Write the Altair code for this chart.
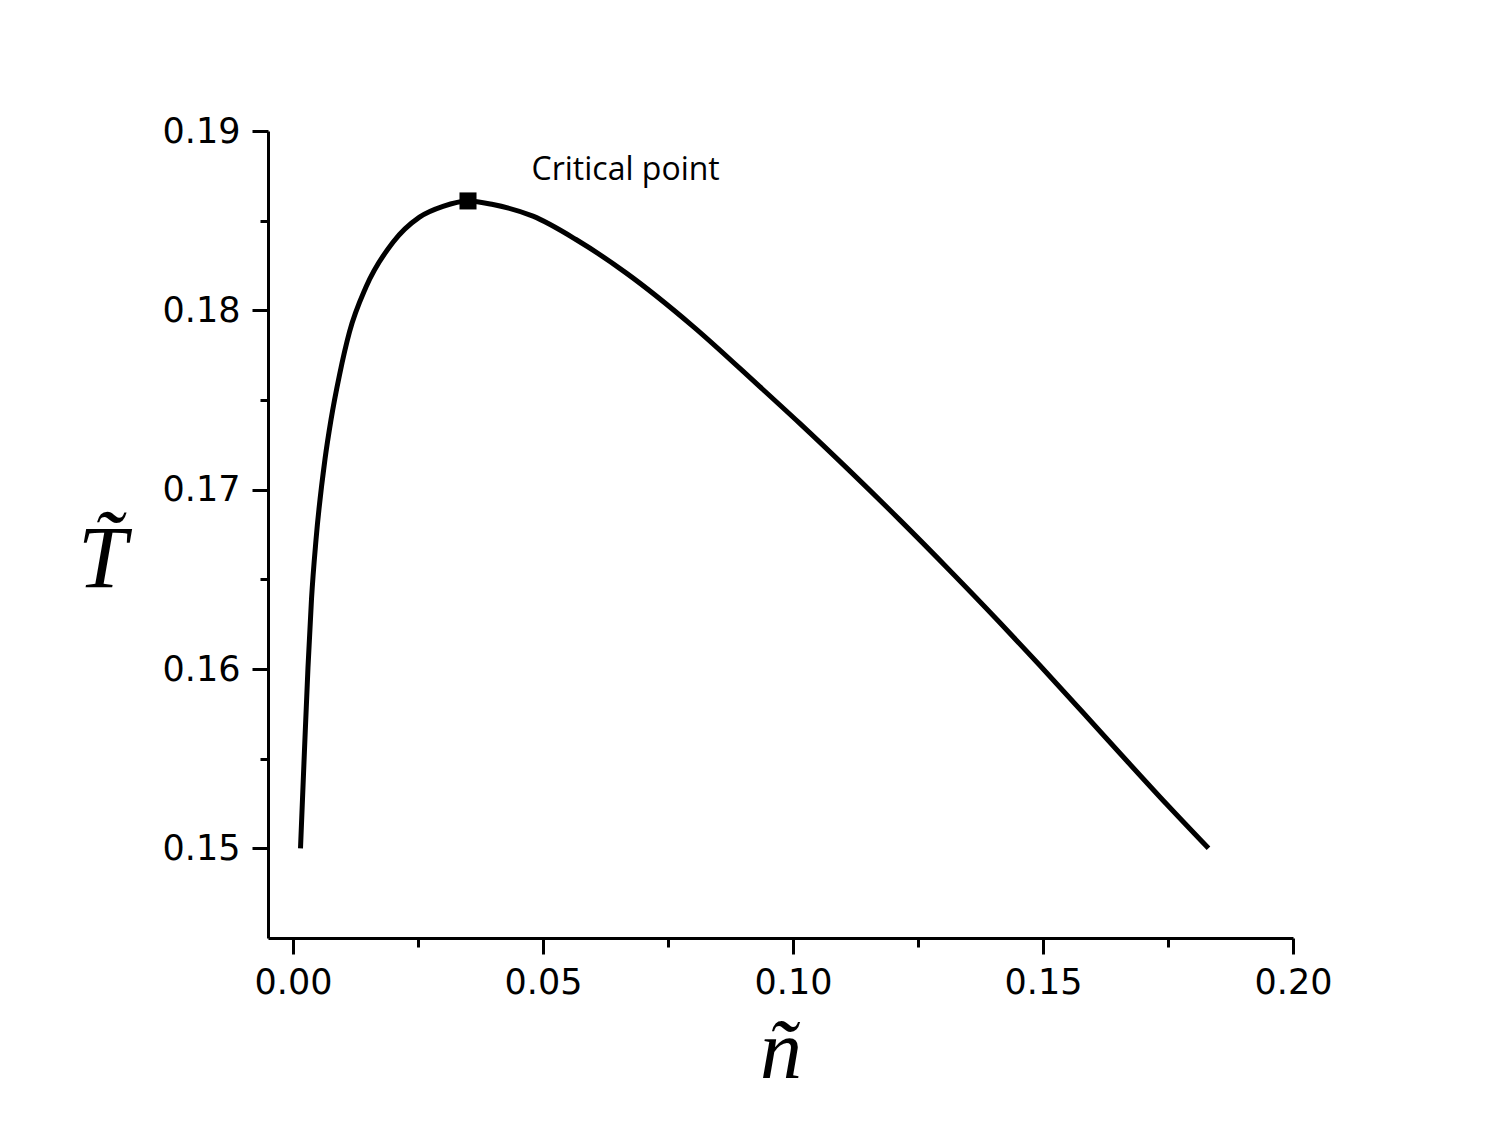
import altair as alt
import pandas as pd

# Coexistence curve
n_vals = [0.0015, 0.0023, 0.0030, 0.0037, 0.0046, 0.0064, 0.0076, 0.0093, 0.0113,
          0.0146, 0.0200, 0.0253, 0.0300, 0.0350, 0.0400, 0.0480, 0.0566, 0.0666,
          0.0800, 0.0933, 0.1013, 0.1113, 0.1213, 0.1313, 0.1413, 0.1493, 0.1579,
          0.1667, 0.1747, 0.1831]
T_vals = [0.1500, 0.1555, 0.1601, 0.1639, 0.1672, 0.1717, 0.1739, 0.1764, 0.1788,
          0.1813, 0.1838, 0.1852, 0.1858, 0.1861, 0.1859, 0.18525, 0.18395, 0.18209,
          0.17911, 0.17576, 0.17371, 0.17106, 0.16833, 0.16551, 0.16261, 0.16022, 0.15760,
          0.15490, 0.15247, 0.1500]

crit_n = [0.0350]
crit_T = [0.1861]

label_text = ["Critical point"]
label_n = [0.0477]
label_T = [0.18726]

x_ticks = [0.0, 0.025, 0.05, 0.075, 0.10, 0.125, 0.15, 0.175, 0.20]
y_ticks = [0.15, 0.155, 0.16, 0.165, 0.17, 0.175, 0.18, 0.185, 0.19]

curve = pd.DataFrame({"n": n_vals, "T": T_vals})
crit = pd.DataFrame({"n": crit_n, "T": crit_T})
lab = pd.DataFrame({"n": label_n, "T": label_T, "text": label_text})

xscale = alt.Scale(domain=[-0.005, 0.20], nice=False, zero=False)
yscale = alt.Scale(domain=[0.145, 0.19], nice=False, zero=False)

tick_font = "DejaVu Sans"

xaxis = alt.Axis(
    values=x_ticks,
    labelExpr="round(datum.value*1000) % 50 == 0 ? format(datum.value, '.2f') : ''",
    tickSize={"condition": {"test": "round(datum.value*1000) % 50 == 0", "value": 16}, "value": 9},
    tickWidth=3, domainWidth=3, tickColor="black", domainColor="black",
    labelFont=tick_font, labelFontSize=35, labelColor="black", labelPadding=11,
    labelFlush=False, labelOverlap=False,
    grid=False,
    title="ñ", titleFont="Liberation Serif", titleFontStyle="italic", titleFontWeight="normal",
    titleFontSize=84, titleColor="black", titleY=140, titleBaseline="alphabetic",
)
yaxis = alt.Axis(
    values=y_ticks,
    labelExpr="round(datum.value*1000) % 10 == 0 ? format(datum.value, '.2f') : ''",
    tickSize={"condition": {"test": "round(datum.value*1000) % 10 == 0", "value": 16}, "value": 8},
    tickWidth=3, domainWidth=3, tickColor="black", domainColor="black",
    labelFont=tick_font, labelFontSize=35, labelColor="black", labelPadding=12,
    labelFlush=False, labelOverlap=False,
    grid=False,
    title="T\u0303", titleFont="Liberation Serif", titleFontStyle="italic", titleFontWeight="normal",
    titleFontSize=88, titleColor="black", titleAngle=0, titleAlign="center",
    titleBaseline="alphabetic", titleX=-166, titleY=455,
)

line = alt.Chart(curve).mark_line(color="black", strokeWidth=5, interpolate="monotone").encode(
    x=alt.X("n:Q", scale=xscale, axis=xaxis),
    y=alt.Y("T:Q", scale=yscale, axis=yaxis),
)

pt = alt.Chart(crit).mark_square(size=290, color="black", opacity=1).encode(
    x=alt.X("n:Q", scale=xscale),
    y=alt.Y("T:Q", scale=yscale),
)

txt = alt.Chart(lab).mark_text(align="left", baseline="alphabetic", font="Open Sans",
                               fontSize=32, color="black").encode(
    x=alt.X("n:Q", scale=xscale),
    y=alt.Y("T:Q", scale=yscale),
    text="text:N",
)

chart = alt.layer(line, pt, txt).properties(
    width=1025, height=807,
    autosize=alt.AutoSizeParams(type="none"),
    padding={"left": 268, "top": 131, "right": 209, "bottom": 189},
    background="white",
).configure_view(stroke=None)

chart.save("out.html", embed_options={"renderer": "svg", "actions": False})
